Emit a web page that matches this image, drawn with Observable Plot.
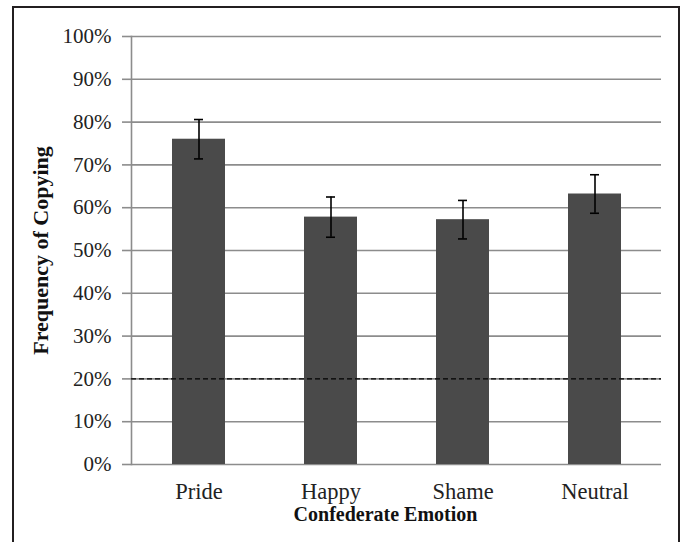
<!DOCTYPE html>
<html>
<head>
<meta charset="utf-8">
<script src="https://cdn.jsdelivr.net/npm/d3@7"></script>
<script src="https://cdn.jsdelivr.net/npm/@observablehq/plot@0.6"></script>
<style>
  html, body { margin: 0; padding: 0; background: #fff; overflow: hidden; }
  #wrap { position: relative; width: 683px; height: 542px; }
  #frame { position: absolute; left: 12px; top: 6px; width: 668px; height: 600px; box-sizing: border-box;
           border: 2px solid #231f20; border-bottom: none; pointer-events: none; }
  svg { display: block; }
</style>
</head>
<body>
<div id="wrap"><div id="chart"></div><div id="frame"></div></div>
<script>
const categories = ["Pride", "Happy", "Shame", "Neutral"];
const means = [0.760, 0.578, 0.572, 0.632];
const errors = [0.046, 0.047, 0.045, 0.045];
const yTicks = [0, 0.1, 0.2, 0.3, 0.4, 0.5, 0.6, 0.7, 0.8, 0.9, 1.0];
const chanceLevel = [0.2];
const xTitle = "Confederate Emotion";
const yTitle = "Frequency of Copying";

const data = categories.map((c, i) => ({cat: c, val: means[i], lo: means[i] - errors[i], hi: means[i] + errors[i]}));
const font = "'Liberation Serif', 'Times New Roman', serif";

const chart = Plot.plot({
  width: 683,
  height: 542,
  marginLeft: 131,
  marginRight: 22,
  marginTop: 36,
  marginBottom: 78,
  style: {fontFamily: font, background: "transparent", color: "#222"},
  x: {domain: categories, paddingInner: 0.6, paddingOuter: 0.3},
  y: {domain: [0, 1]},
  marks: [
    Plot.ruleY(yTicks.slice(1), {stroke: "#8c8c8c", strokeWidth: 1.6}),
    Plot.ruleY([0], {stroke: "#8c8c8c", strokeWidth: 1.6}),
    Plot.frame({anchor: "left", stroke: "#8c8c8c", strokeWidth: 1.6}),
    Plot.axisY({ticks: yTicks, tickFormat: d3.format(".0%"), tickSize: 9, tickPadding: 11, fontSize: 21, stroke: "#8c8c8c", strokeWidth: 1.6, label: null, color: "#222"}),
    Plot.barY(data, {x: "cat", y: "val", fill: "#4a4a4a"}),
    Plot.ruleX(data, {x: "cat", y1: "lo", y2: "hi", stroke: "#000", strokeWidth: 1.6}),
    Plot.tickY(data, {x: "cat", y: "lo", stroke: "#000", strokeWidth: 1.6, inset: 22}),
    Plot.tickY(data, {x: "cat", y: "hi", stroke: "#000", strokeWidth: 1.6, inset: 22}),
    Plot.ruleY(chanceLevel, {stroke: "#000", strokeWidth: 1.2, strokeDasharray: "5,3"}),
    Plot.axisX({tickSize: 0, tickPadding: 19, fontSize: 22.5, label: null, color: "#222"}),
    Plot.text([xTitle], {frameAnchor: "bottom", dy: 56, dx: -11, fontSize: 20, fontWeight: "bold", fill: "#111"}),
    Plot.text([yTitle], {frameAnchor: "left", dx: -91, rotate: -90, textAnchor: "middle", fontSize: 22, fontWeight: "bold", fill: "#111"})
  ]
});
document.getElementById("chart").appendChild(chart);
</script>
</body>
</html>
